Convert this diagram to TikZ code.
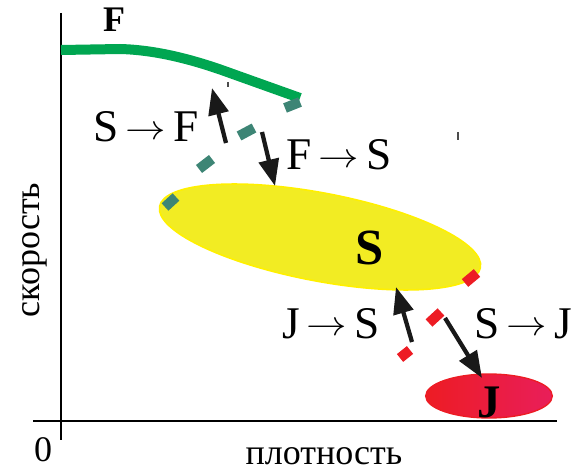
\documentclass[tikz,border=0pt]{standalone}
\usepackage{fontspec}
\usepackage{graphicx}
\setmainfont{Liberation Serif}
\usetikzlibrary{arrows.meta,shapes.geometric,calc}
\definecolor{fgreen}{RGB}{0,166,81}
\definecolor{fteal}{RGB}{61,133,117}
\definecolor{syellow}{RGB}{242,236,35}
\definecolor{syellowline}{RGB}{255,240,0}
\definecolor{jred}{RGB}{237,28,36}
\definecolor{jpink}{RGB}{233,30,90}
\newcommand{\myarr}{\hspace{0.16em}\raisebox{2.2pt}{\scalebox{1.22}[1.05]{$\rightarrow$}}\hspace{0.16em}}
\tikzset{
  axis/.style={line width=1.1pt,black},
  lbl/.style={font=\fontsize{34}{40}\selectfont,inner sep=0pt,anchor=base},
  bigb/.style={font=\fontsize{35}{40}\selectfont\bfseries,inner sep=0pt,anchor=base},
  axlbl/.style={font=\fontsize{27}{32}\selectfont,inner sep=0pt,anchor=base},
  flow/.style={line width=3.2pt,black!90,-{Triangle[length=20pt,width=15pt]}},
  tealdash/.style={line width=7.5pt,fteal},
  reddash/.style={line width=7.5pt,jred},
  tick/.style={line width=0.9pt,black!70}
}
\begin{document}
\begin{tikzpicture}[x=0.75pt,y=-0.75pt]
\useasboundingbox (0,0) rectangle (571,470);
% axes
\draw[axis] (61,13) -- (61,440);
\draw[axis] (33,421) -- (557,421);
\node[axlbl] (zero) at (43,461) {0};
\node[axlbl] (xl) at (324,464) {плотность};
\node[axlbl,rotate=90] (yl) at (39,250) {скорость};
% yellow S
\node[ellipse,draw=syellowline,line width=1.2pt,fill=syellow,
  minimum width=245pt,minimum height=66pt,rotate=-10.8] (S) at (320,237) {};
\node[bigb,font=\fontsize{38}{42}\selectfont\bfseries] (Sl) at (370,265) {S};
% red J
\node[ellipse,draw=jred,line width=1pt,left color=jred,right color=jpink,
  minimum width=95pt,minimum height=33pt] (J) at (489,396) {};
\node[bigb] (Jl) at (489,417) {J};
% green F line
\draw[fgreen,line width=7.5pt] (61,50) -- (120,49) .. controls (160,50) and (200,62) .. (230,73) -- (300,98);
\node[bigb,font=\fontsize{27}{32}\selectfont\bfseries] (Fl) at (114,32) {F};
% teal dashes
\coordinate (t1a) at (300,102); \coordinate (t1b) at (285,108);
\coordinate (t2a) at (254,128); \coordinate (t2b) at (239,136);
\coordinate (t3a) at (212,159); \coordinate (t3b) at (199,169);
\coordinate (t4a) at (176,197); \coordinate (t4b) at (165,207);
\draw[tealdash] (t1a) -- (t1b);
\draw[tealdash] (t2a) -- (t2b);
\draw[tealdash] (t3a) -- (t3b);
\draw[tealdash] (t4a) -- (t4b);
% red dashes
\coordinate (r1a) at (477,273); \coordinate (r1b) at (465,283);
\coordinate (r2a) at (441,312); \coordinate (r2b) at (429,323);
\coordinate (r3a) at (410,350); \coordinate (r3b) at (400,358);
\draw[reddash] (r1a) -- (r1b);
\draw[reddash] (r2a) -- (r2b);
\draw[reddash] (r3a) -- (r3b);
% arrows
\coordinate (a1s) at (226,143); \coordinate (a1e) at (212,88);
\coordinate (a2s) at (262,132); \coordinate (a2e) at (275,186);
\coordinate (a3s) at (412,342); \coordinate (a3e) at (396,287);
\coordinate (a4s) at (445,318); \coordinate (a4e) at (482,378);
\draw[flow] (a1s) -- (a1e);
\draw[flow] (a2s) -- (a2e);
\draw[flow] (a3s) -- (a3e);
\draw[flow] (a4s) -- (a4e);
% labels
\node[lbl] (SF) at (146,142) {S\myarr F};
\node[lbl] (FS) at (339,170) {F\myarr S};
\node[lbl] (JS) at (331,338) {J\myarr S};
\node[lbl] (SJ) at (523,338) {S\myarr J};
% tiny ticks
\coordinate (k1) at (228,82); \coordinate (k2) at (228,87);
\coordinate (k3) at (458,132); \coordinate (k4) at (458,140);
\draw[tick] (k1) -- (k2);
\draw[tick] (k3) -- (k4);
\end{tikzpicture}
\end{document}
